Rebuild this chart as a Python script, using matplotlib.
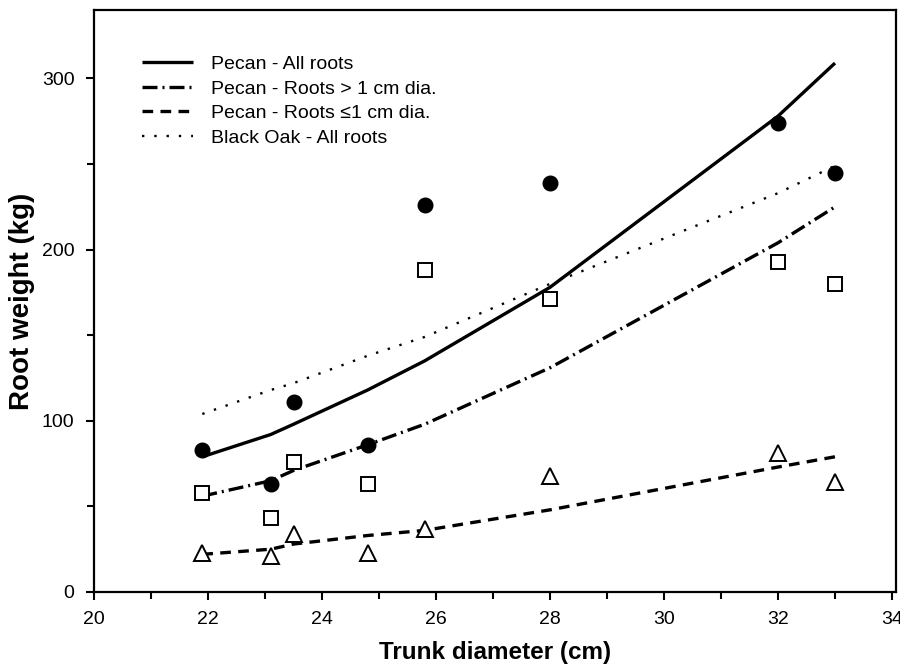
import matplotlib
matplotlib.use("Agg")
import matplotlib.pyplot as plt
from matplotlib.ticker import MultipleLocator

plt.rcParams['font.family'] = ['Liberation Sans', 'DejaVu Sans']

# Trunk diameters of the sampled trees (cm)
diameter = [21.9, 23.1, 23.5, 24.8, 25.8, 28.0, 32.0, 33.0]

# Measured pecan root weights (kg)
all_roots = [83, 63, 111, 86, 226, 239, 274, 245]
coarse_roots = [58, 43, 76, 63, 188, 171, 193, 180]
fine_roots = [23, 21, 34, 23, 37, 68, 81, 64]

# Fitted curves (kg) at the same diameters
fit_all = [79, 92, 98, 118, 135, 178, 278, 309]
fit_coarse = [56, 65, 71, 86, 98, 131, 204, 225]
fit_fine = [22, 25, 28, 33, 36, 48, 73, 79]
fit_oak = [104, 118, 122, 138, 149, 180, 233, 249]

legend_labels = ["Pecan - All roots", "Pecan - Roots > 1 cm dia.",
                 "Pecan - Roots \u22641 cm dia.", "Black Oak - All roots"]

fig = plt.figure(figsize=(9, 6.66), dpi=100)
ax = fig.add_axes([94 / 900, 1 - 592 / 666, 802 / 900, 582 / 666])

lw = 2.4
l1, = ax.plot(diameter, fit_all, color='black', lw=lw, solid_capstyle='butt')
l2, = ax.plot(diameter, fit_coarse, color='black', lw=lw,
              dashes=(4.5, 1.5, 0.6, 1.5), dash_capstyle='butt')
l3, = ax.plot(diameter, fit_fine, color='black', lw=lw,
              dashes=(3.2, 2.2), dash_capstyle='butt')
l4, = ax.plot(diameter, fit_oak, color='black', lw=1.7,
              dashes=(1.0, 4.2), dash_capstyle='butt')

ax.plot(diameter, all_roots, 'o', color='black', ms=10.5, zorder=5)
ax.plot(diameter, coarse_roots, 's', mfc='white', mec='black', mew=1.4,
        ms=10, zorder=5)
ax.plot(diameter, fine_roots, '^', mfc='white', mec='black', mew=1.4,
        ms=11, zorder=5)

ax.set_xlim(20, 34.07)
ax.set_ylim(0, 340)
ax.xaxis.set_major_locator(MultipleLocator(2))
ax.xaxis.set_minor_locator(MultipleLocator(1))
ax.yaxis.set_major_locator(MultipleLocator(100))
ax.yaxis.set_minor_locator(MultipleLocator(50))
ax.tick_params(which='both', direction='out', width=1.5, labelsize=14,
               top=False, right=False)
ax.tick_params(which='major', length=6, pad=8)
ax.tick_params(which='minor', length=5)
for s in ax.spines.values():
    s.set_linewidth(1.6)

ax.set_xlabel("Trunk diameter (cm)", fontsize=17.5, fontweight='bold', labelpad=9)
ax.set_ylabel("Root weight (kg)", fontsize=20, fontweight='bold', labelpad=5)

ax.legend([l1, l2, l3, l4], legend_labels, loc='upper left',
          bbox_to_anchor=(0.06, 0.922), frameon=False, fontsize=14,
          handlelength=2.6, handletextpad=0.95, labelspacing=0.36,
          borderpad=0, borderaxespad=0)

fig.savefig("out.png", dpi=100)
